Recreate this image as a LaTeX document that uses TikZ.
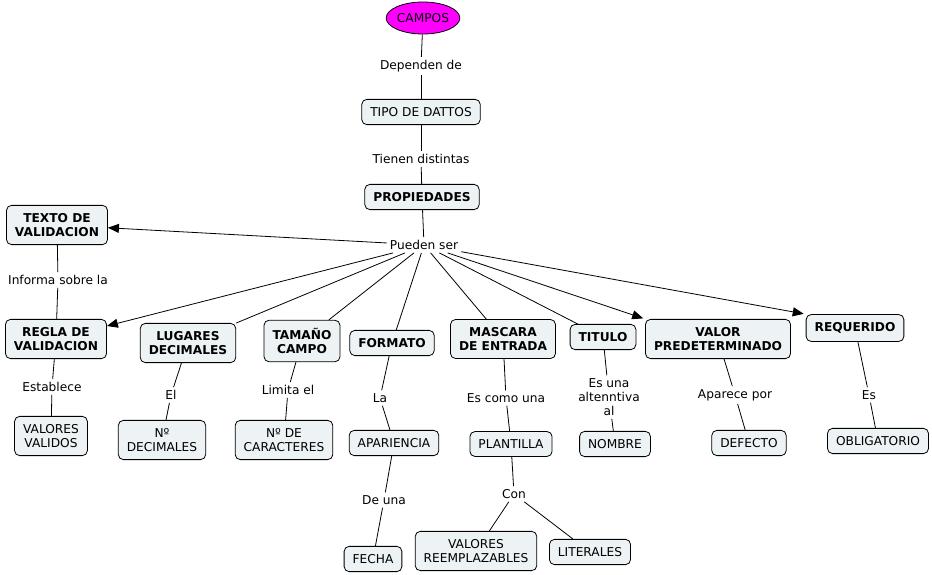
\documentclass[tikz,border=0pt]{standalone}
\usepackage{fontspec}
\setmainfont{DejaVu Sans}
\usetikzlibrary{shapes.geometric,arrows.meta}
\definecolor{conceptfill}{RGB}{237,243,245}
\definecolor{camposfill}{RGB}{255,0,255}

\begin{document}
\begin{tikzpicture}[x=1pt, y=-1pt,
    font=\fontsize{12.2}{14}\selectfont,
    concept/.style={draw, fill=conceptfill, rounded corners=5pt, inner xsep=8.5pt, inner ysep=8pt, align=center, line width=0.8pt},
    main/.style={concept, font=\fontsize{12.2}{14}\selectfont\bfseries},
    link/.style={inner sep=3pt, align=center},
    conn/.style={line width=0.8pt},
    arr/.style={conn, -{Triangle[length=11pt,width=9pt]}},
]
\useasboundingbox (0,0) rectangle (932,575);

% top
\node[ellipse, draw, fill=camposfill, line width=0.8pt, minimum width=70pt, minimum height=32pt, inner sep=0pt] (campos) at (423,18) {CAMPOS};
\node[link] (dependen) at (421,66) {Dependen de};
\node[concept] (tipo) at (421,112) {TIPO DE DATTOS};
\node[link] (tienen) at (421,159) {Tienen distintas};
\node[main] (propiedades) at (422,197) {PROPIEDADES};
\node[link] (pueden) at (424,245) {Pueden ser};

% properties
\node[main] (texto) at (57,225) {TEXTO DE\\VALIDACION};
\node[main] (regla) at (56,339) {REGLA DE\\VALIDACION};
\node[main] (lugares) at (188,343) {LUGARES\\DECIMALES};
\node[main] (tamano) at (302,341) {TAMAÑO\\CAMPO};
\node[main] (formato) at (392,343) {FORMATO};
\node[main] (mascara) at (503,339) {MASCARA\\DE ENTRADA};
\node[main] (titulo) at (603,337) {TITULO};
\node[main] (valor) at (718,339) {VALOR\\PREDETERMINADO};
\node[main] (requerido) at (855,328) {REQUERIDO};

% linking phrases
\node[link] (informa) at (58,280) {Informa sobre la};
\node[link] (establece) at (52,387) {Establece};
\node[link] (el) at (171,395) {El};
\node[link] (limita) at (288,390) {Limita el};
\node[link] (la) at (380,398) {La};
\node[link] (deuna) at (384,500) {De una};
\node[link] (escomo) at (506,398) {Es como una};
\node[link] (con) at (514,494) {Con};
\node[link] (esuna) at (609,397) {Es una\\altenntiva\\al};
\node[link] (aparece) at (735,395) {Aparece por};
\node[link] (es) at (869,395) {Es};

% leaves
\node[concept] (validos) at (51,436) {VALORES\\VALIDOS};
\node[concept] (ndecimales) at (162,440) {Nº\\DECIMALES};
\node[concept] (ncaracteres) at (284,440) {Nº DE\\CARACTERES};
\node[concept] (apariencia) at (394,443) {APARIENCIA};
\node[concept] (fecha) at (373,559) {FECHA};
\node[concept] (plantilla) at (511,444) {PLANTILLA};
\node[concept] (reemplazables) at (476,551) {VALORES\\REEMPLAZABLES};
\node[concept] (literales) at (590,552) {LITERALES};
\node[concept] (nombre) at (615,444) {NOMBRE};
\node[concept] (defecto) at (749,443) {DEFECTO};
\node[concept] (obligatorio) at (878,441) {OBLIGATORIO};

% connections
\foreach \a/\b in {campos/dependen, dependen/tipo, tipo/tienen, tienen/propiedades, propiedades/pueden,
    pueden/lugares, pueden/tamano, pueden/formato, pueden/mascara, pueden/titulo,
    texto/informa, informa/regla, regla/establece, establece/validos,
    lugares/el, el/ndecimales, tamano/limita, limita/ncaracteres,
    formato/la, la/apariencia, apariencia/deuna, deuna/fecha,
    mascara/escomo, escomo/plantilla, plantilla/con, con/reemplazables, con/literales,
    titulo/esuna, esuna/nombre, valor/aparece, aparece/defecto, requerido/es, es/obligatorio}
  \draw[conn] (\a) -- (\b);

% arrows
\draw[arr] (pueden) -- (texto);
\draw[arr] (pueden) -- (regla);
\draw[arr, shorten >=2pt] (pueden) -- (valor.north west);
\draw[arr, shorten >=2pt] (pueden) -- (requerido.north west);
\end{tikzpicture}
\end{document}
